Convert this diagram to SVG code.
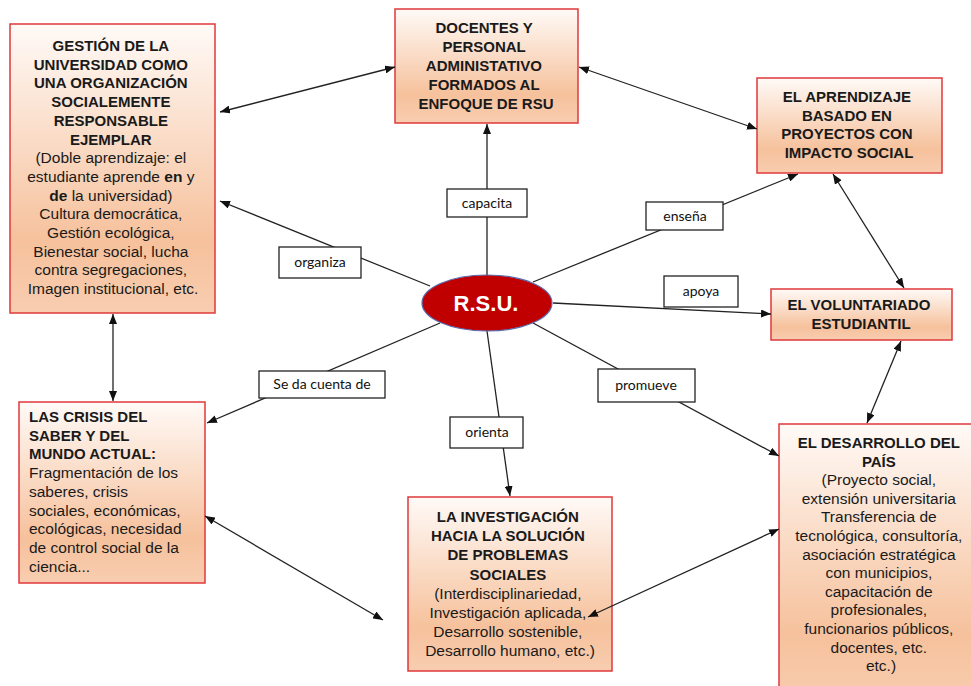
<svg xmlns="http://www.w3.org/2000/svg" width="971" height="686" viewBox="0 0 971 686">
<defs>
<linearGradient id="peach" x1="0" y1="0" x2="0" y2="1">
<stop offset="0" stop-color="#fffaf7"/>
<stop offset="0.75" stop-color="#f6c19c"/>
<stop offset="1" stop-color="#f8cdb0"/>
</linearGradient>
<marker id="ah" viewBox="0 0 10 8" refX="10" refY="4" markerWidth="10" markerHeight="8" markerUnits="userSpaceOnUse" orient="auto-start-reverse">
<path d="M0,0 L10,4 L0,8 z" fill="#111"/>
</marker>
<style>
.box{fill:url(#peach);stroke:#e0393b;stroke-width:1.5}
.lbl{fill:#fff;stroke:#222;stroke-width:1.3}
.t{font-family:"Liberation Sans",Arial,sans-serif;fill:#1a1a1a;font-size:15.5px}
.c{text-anchor:middle}
.b{font-weight:bold;font-size:15px}
.lt{font-family:Lato,"Liberation Sans",sans-serif;font-size:14px;fill:#111;text-anchor:middle}
.ln{stroke:#222;stroke-width:1.3;fill:none}
.one{marker-end:url(#ah)}
.two{marker-end:url(#ah);marker-start:url(#ah)}
</style>
</defs>
<rect width="971" height="686" fill="#fff"/>

<g id="gestion">
<rect class="box" x="10" y="24" width="205" height="289"/>
<text class="t c" x="113" y="51">
<tspan class="b" x="113">GESTIÓN DE LA</tspan>
<tspan class="b" x="113" dy="18.7">UNIVERSIDAD COMO</tspan>
<tspan class="b" x="113" dy="18.7">UNA ORGANIZACIÓN</tspan>
<tspan class="b" x="113" dy="18.7">SOCIALEMENTE</tspan>
<tspan class="b" x="113" dy="18.7">RESPONSABLE</tspan>
<tspan class="b" x="113" dy="18.7">EJEMPLAR</tspan>
<tspan x="113" dy="18.7">(Doble aprendizaje: el</tspan>
<tspan x="113" dy="18.7">estudiante aprende <tspan font-weight="bold">en</tspan> y</tspan>
<tspan x="113" dy="18.7"><tspan font-weight="bold">de</tspan> la universidad)</tspan>
<tspan x="113" dy="18.7">Cultura democrática,</tspan>
<tspan x="113" dy="18.7">Gestión ecológica,</tspan>
<tspan x="113" dy="18.7">Bienestar social, lucha</tspan>
<tspan x="113" dy="18.7">contra segregaciones,</tspan>
<tspan x="113" dy="18.7">Imagen institucional, etc.</tspan>
</text>
</g>

<g id="docentes">
<rect class="box" x="395" y="9" width="183" height="114"/>
<text class="t c b" x="486" y="33" font-size="15.5">
<tspan x="486">DOCENTES Y</tspan>
<tspan x="486" dy="19">PERSONAL</tspan>
<tspan x="486" dy="19">ADMINISTATIVO</tspan>
<tspan x="486" dy="19">FORMADOS AL</tspan>
<tspan x="486" dy="19">ENFOQUE DE RSU</tspan>
</text>
</g>

<g id="aprendizaje">
<rect class="box" x="757" y="78" width="185" height="95"/>
<text class="t c b" x="849" y="102" font-size="15.5">
<tspan x="849">EL APRENDIZAJE</tspan>
<tspan x="849" dy="18.7">BASADO EN</tspan>
<tspan x="849" dy="18.7">PROYECTOS CON</tspan>
<tspan x="849" dy="18.7">IMPACTO SOCIAL</tspan>
</text>
</g>

<g id="voluntariado">
<rect class="box" x="771" y="289" width="181" height="51"/>
<text class="t c b" x="861" y="310" font-size="15.5">
<tspan x="861">EL VOLUNTARIADO</tspan>
<tspan x="861" dy="19">ESTUDIANTIL</tspan>
</text>
</g>

<g id="desarrollo">
<rect class="box" x="779" y="424" width="202" height="280"/>
<text class="t c" x="881" y="448" font-size="16">
<tspan class="b" x="881" font-size="16">EL DESARROLLO DEL</tspan>
<tspan class="b" x="881" dy="18.6" font-size="16">PAÍS</tspan>
<tspan x="881" dy="18.6">(Proyecto social,</tspan>
<tspan x="881" dy="18.6">extensión universitaria</tspan>
<tspan x="881" dy="18.6">Transferencia de</tspan>
<tspan x="881" dy="18.6">tecnológica, consultoría,</tspan>
<tspan x="881" dy="18.6">asociación estratégica</tspan>
<tspan x="881" dy="18.6">con municipios,</tspan>
<tspan x="881" dy="18.6">capacitación de</tspan>
<tspan x="881" dy="18.6">profesionales,</tspan>
<tspan x="881" dy="18.6">funcionarios públicos,</tspan>
<tspan x="881" dy="18.6">docentes, etc.</tspan>
<tspan x="881" dy="18.6">etc.)</tspan>
</text>
</g>

<g id="crisis">
<rect class="box" x="19" y="402" width="186" height="181"/>
<text class="t" x="29" y="422">
<tspan class="b" x="29" font-size="15.5">LAS CRISIS DEL</tspan>
<tspan class="b" x="29" dy="18.7" font-size="15.5">SABER Y DEL</tspan>
<tspan class="b" x="29" dy="18.7" font-size="15.5">MUNDO ACTUAL:</tspan>
<tspan x="29" dy="18.7">Fragmentación de los</tspan>
<tspan x="29" dy="18.7">saberes, crisis</tspan>
<tspan x="29" dy="18.7">sociales, económicas,</tspan>
<tspan x="29" dy="18.7">ecológicas, necesidad</tspan>
<tspan x="29" dy="18.7">de control social de la</tspan>
<tspan x="29" dy="18.7">ciencia...</tspan>
</text>
</g>

<g id="investigacion">
<rect class="box" x="408" y="497" width="204" height="174"/>
<text class="t c" x="510" y="522">
<tspan class="b" x="510" font-size="15.5">LA INVESTIGACIÓN</tspan>
<tspan class="b" x="510" dy="19.2" font-size="15.5">HACIA LA SOLUCIÓN</tspan>
<tspan class="b" x="510" dy="19.2" font-size="15.5">DE PROBLEMAS</tspan>
<tspan class="b" x="510" dy="19.2" font-size="15.5">SOCIALES</tspan>
<tspan x="510" dy="19.2">(Interdisciplinariedad,</tspan>
<tspan x="510" dy="19.2">Investigación aplicada,</tspan>
<tspan x="510" dy="19.2">Desarrollo sostenible,</tspan>
<tspan x="510" dy="19.2">Desarrollo humano, etc.)</tspan>
</text>
</g>

<g id="connectors">
<line class="ln one" x1="487" y1="275" x2="487" y2="124"/>
<line class="ln one" x1="430" y1="286" x2="220" y2="201"/>
<line class="ln one" x1="440" y1="323" x2="207" y2="423"/>
<line class="ln one" x1="487" y1="331" x2="510" y2="496"/>
<line class="ln one" x1="533" y1="282" x2="798" y2="174"/>
<line class="ln one" x1="553" y1="303" x2="771" y2="314"/>
<line class="ln one" x1="533" y1="323" x2="779" y2="456"/>
<line class="ln two" x1="220" y1="112" x2="395" y2="67"/>
<line class="ln two" x1="579" y1="67" x2="757" y2="129"/>
<line class="ln two" x1="833" y1="174" x2="904" y2="288"/>
<line class="ln two" x1="901" y1="341" x2="867" y2="423"/>
<line class="ln two" x1="113" y1="314" x2="113" y2="401"/>
<line class="ln two" x1="205" y1="516" x2="383" y2="620"/>
<line class="ln two" x1="588" y1="617" x2="779" y2="529"/>
</g>

<g id="rsu">
<ellipse cx="487" cy="303" rx="65" ry="28" fill="#c00000" stroke="#5a6bb0" stroke-width="1.2"/>
<text x="486" y="311" font-family="'Liberation Sans',Arial,sans-serif" font-size="22" font-weight="bold" fill="#fff" text-anchor="middle">R.S.U.</text>
</g>

<g id="lbl-capacita"><rect class="lbl" x="447" y="189" width="80" height="28"/><text class="lt" x="487" y="208">capacita</text></g>
<g id="lbl-organiza"><rect class="lbl" x="279" y="247" width="82" height="31"/><text class="lt" x="320" y="267">organiza</text></g>
<g id="lbl-seda"><rect class="lbl" x="259" y="371" width="126" height="27"/><text class="lt" x="322" y="389">Se da cuenta de</text></g>
<g id="lbl-orienta"><rect class="lbl" x="450" y="417" width="73" height="31"/><text class="lt" x="487" y="437">orienta</text></g>
<g id="lbl-ensena"><rect class="lbl" x="646" y="202" width="77" height="28"/><text class="lt" x="685" y="221">enseña</text></g>
<g id="lbl-apoya"><rect class="lbl" x="664" y="276" width="74" height="31"/><text class="lt" x="701" y="296">apoya</text></g>
<g id="lbl-promueve"><rect class="lbl" x="598" y="369" width="97" height="33"/><text class="lt" x="646" y="390">promueve</text></g>
</svg>
